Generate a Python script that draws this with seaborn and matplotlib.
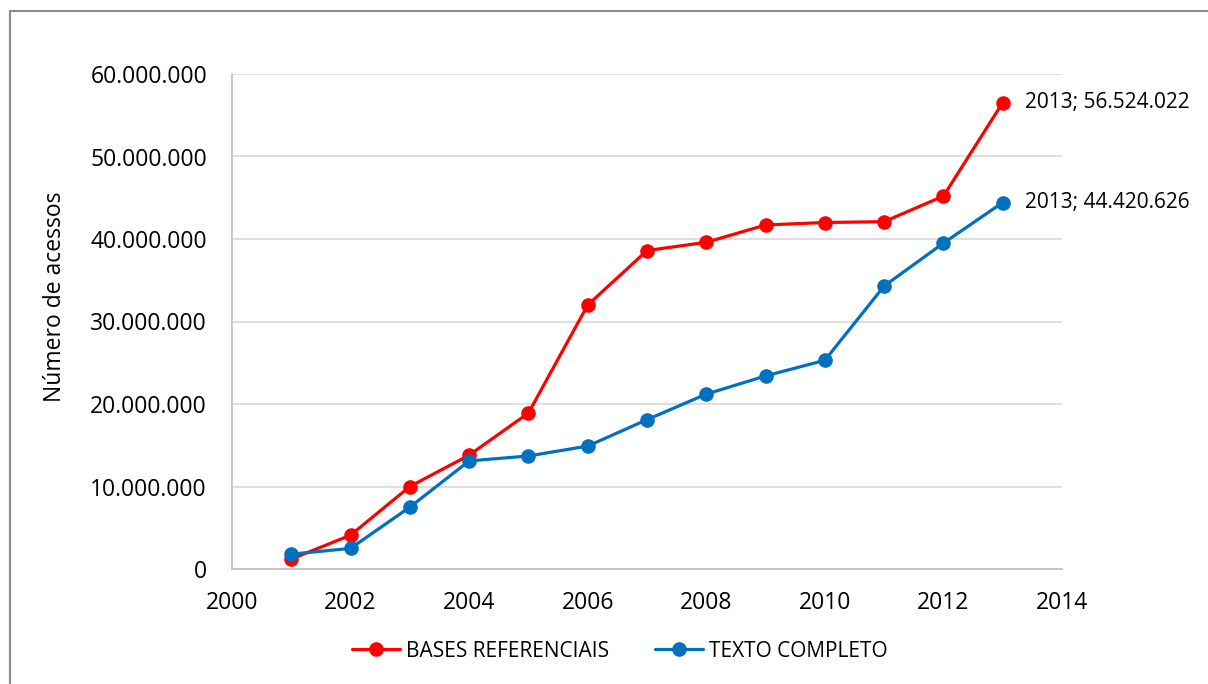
import matplotlib
matplotlib.use("Agg")
import matplotlib.pyplot as plt
import matplotlib.ticker as mticker
from matplotlib.patches import Rectangle
import seaborn as sns
import pandas as pd

years = list(range(2001, 2014))
bases_referenciais = [1.2e6, 4.1e6, 10.0e6, 13.8e6, 18.9e6, 32.0e6, 38.6e6,
                      39.6e6, 41.7e6, 42.0e6, 42.1e6, 45.2e6, 56524022]
texto_completo = [1.8e6, 2.5e6, 7.5e6, 13.1e6, 13.7e6, 14.9e6, 18.1e6,
                  21.2e6, 23.4e6, 25.3e6, 34.3e6, 39.5e6, 44420626]
series_names = ["BASES REFERENCIAIS", "TEXTO COMPLETO"]
colors = ["#FF0000", "#0070C0"]

df = pd.DataFrame({
    "ano": years * 2,
    "valor": bases_referenciais + texto_completo,
    "serie": [series_names[0]] * len(years) + [series_names[1]] * len(years),
})

sns.set_theme(style="white")
plt.rcParams["font.family"] = ["Open Sans", "DejaVu Sans"]
plt.rcParams["text.color"] = "black"

fig = plt.figure(figsize=(12.08, 6.84), dpi=100)
ax = fig.add_axes([232 / 1208, 1 - 569 / 684, (1062 - 232) / 1208, (569 - 74) / 684])

sns.lineplot(data=df, x="ano", y="valor", hue="serie", palette=colors,
             marker="o", markersize=10.5, markeredgewidth=0, linewidth=2.3,
             ax=ax, legend=True)

ax.set_xlim(2000, 2014)
ax.set_ylim(0, 60e6)
ax.set_xticks(range(2000, 2015, 2))
ax.set_yticks(range(0, 60000001, 10000000))
ax.yaxis.set_major_formatter(mticker.FuncFormatter(lambda v, p: f"{int(v):,}".replace(",", ".")))
ax.tick_params(axis="both", labelsize=16.5, colors="black", length=0)
ax.tick_params(axis="y", pad=18)
ax.tick_params(axis="x", pad=16)
ax.grid(axis="y", color="#D9D9D9", linewidth=1.2)
ax.grid(axis="x", visible=False)
for s in ["top", "right"]:
    ax.spines[s].set_visible(False)
for s in ["left", "bottom"]:
    ax.spines[s].set_color("#BFBFBF")
    ax.spines[s].set_linewidth(1.2)
ax.set_xlabel("")
ax.set_ylabel("Número de acessos", fontsize=16.5, color="black")
ax.yaxis.label.set_rotation_mode("default")
ax.yaxis.label.set_va("center")
ax.yaxis.label.set_ha("center")
ax.yaxis.set_label_coords(-0.213, 0.549)

for val in (bases_referenciais[-1], texto_completo[-1]):
    ax.annotate(f"2013; {int(val):,}".replace(",", "."), xy=(2013, val),
                xytext=(16, 0), textcoords="offset points", va="center",
                fontsize=15, color="black")

ax.legend(loc="center", bbox_to_anchor=(0.513, 0.048), bbox_transform=fig.transFigure,
          ncol=2, frameon=False, fontsize=15, handlelength=2.3,
          columnspacing=2.2, handletextpad=0.3)

fig.patches.append(Rectangle((10 / 1208, -0.01), 1.02, 1 - 11 / 684 + 0.01,
                             transform=fig.transFigure, fill=False,
                             edgecolor="#8C8C8C", linewidth=1.5))

fig.savefig("out.png", dpi=100)
